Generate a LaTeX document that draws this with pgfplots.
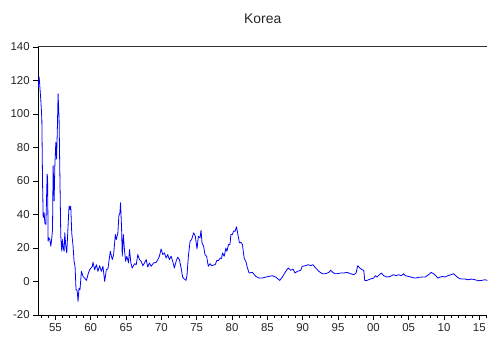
\documentclass[border=0pt]{standalone}
\usepackage{pgfplots}
\pgfplotsset{compat=1.18}
\usepackage{fontspec}
\setmainfont{Liberation Sans}

\begin{document}
\begin{tikzpicture}
% fixed canvas
\path (0,0) rectangle (489bp,342bp);
\begin{axis}[
  at={(38.3bp,26bp)}, anchor=south west,
  scale only axis, width=450.7bp, height=269bp,
  xmin=1952.56, xmax=2016.13, ymin=-20, ymax=140,
  axis x line=bottom, axis y line=left,
  axis line style={-, black, line width=0.6pt},
  tick align=outside,
  xtick={1955,1960,...,2015},
  xticklabels={55,60,65,70,75,80,85,90,95,00,05,10,15},
  minor xtick={1953,...,2016},
  ytick={-20,0,...,140},
  major tick length=5bp, minor tick length=3bp,
  tick style={black, line width=0.6pt},
  /pgf/number format/assume math mode=true,
  ticklabel style={font=\fontsize{11.5}{13}\selectfont, text=black!85},
  title={Korea},
  title style={at={(0.5,1)}, anchor=base, yshift=17.7bp,
    font=\fontsize{14}{16}\selectfont, text=black!85},
  clip=false,
]
\draw[black!80, line width=1.1pt] (rel axis cs:0,1) -- (rel axis cs:1,1);
\addplot[blue, line width=0.8pt, line join=round] coordinates {
(1952.59,116) (1952.62,118) (1952.70,122) (1952.94,108) (1953.08,97)
(1953.18,59) (1953.27,38) (1953.41,41) (1953.50,35) (1953.65,34)
(1953.72,45) (1953.83,64) (1953.89,62) (1953.97,24) (1954.07,26)
(1954.21,25) (1954.35,21) (1954.49,26) (1954.59,31) (1954.68,69)
(1954.82,48) (1954.92,69) (1955.06,83) (1955.16,73) (1955.27,90)
(1955.38,112) (1955.52,97) (1955.62,67) (1955.76,27) (1955.90,18)
(1956.00,25) (1956.11,20) (1956.23,18) (1956.33,29) (1956.47,21)
(1956.61,17) (1956.79,33) (1956.93,45) (1957.07,43) (1957.17,45)
(1957.31,29) (1957.50,21) (1957.64,12) (1957.78,9) (1957.92,-5)
(1958.02,-5) (1958.12,-7) (1958.20,-12) (1958.34,-4) (1958.48,-5)
(1958.68,6) (1958.91,3) (1959.15,2) (1959.39,0.6) (1959.67,5)
(1959.85,7) (1960.23,9) (1960.32,11.4) (1960.56,7) (1960.80,10)
(1961.02,6) (1961.26,9.4) (1961.50,6) (1961.73,9) (1961.97,0)
(1962.21,7) (1962.43,7.4) (1962.77,18) (1963.05,13) (1963.24,16)
(1963.48,28) (1963.62,25) (1963.84,29) (1963.98,39) (1964.13,41)
(1964.22,47) (1964.37,31) (1964.46,15) (1964.61,28) (1964.75,20)
(1964.93,12) (1965.11,15) (1965.35,11) (1965.49,19) (1965.68,11)
(1965.87,8) (1966.20,10.6) (1966.44,10) (1966.66,16) (1966.90,13)
(1967.14,12) (1967.37,9.4) (1967.61,11) (1967.85,13) (1968.07,8.6)
(1968.31,11) (1968.55,9) (1968.88,11) (1969.26,11.4) (1969.49,13)
(1969.72,15) (1969.96,19.4) (1970.19,16) (1970.43,17) (1970.67,14)
(1970.90,16) (1971.14,13) (1971.38,15) (1971.60,12) (1971.84,8)
(1972.08,12) (1972.31,14.4) (1972.55,13) (1972.79,8) (1973.01,2.6)
(1973.25,1.4) (1973.49,0.6) (1973.63,4) (1973.82,15) (1974.06,24)
(1974.28,25) (1974.56,29) (1974.80,27) (1975.04,19.4) (1975.23,27)
(1975.47,26) (1975.61,30.5) (1975.75,23) (1975.97,21) (1976.17,16)
(1976.40,15) (1976.64,9) (1976.88,10.6) (1977.10,9.4) (1977.38,9.8)
(1977.62,10) (1977.86,12.6) (1978.09,12.4) (1978.33,14) (1978.51,13.6)
(1978.65,17) (1978.89,15) (1979.13,20) (1979.27,18) (1979.50,22)
(1979.70,22) (1979.84,28) (1980.06,28) (1980.20,30) (1980.44,30)
(1980.63,32.6) (1980.87,27) (1981.05,23) (1981.25,23.4) (1981.47,22)
(1981.71,14) (1981.95,12) (1982.18,8) (1982.42,5) (1982.88,5.4)
(1983.36,3) (1983.83,2) (1984.29,2) (1984.77,2.6) (1985.24,3)
(1985.70,3.4) (1986.18,2.6) (1986.75,0.6) (1987.12,2.6) (1987.60,6)
(1987.96,8) (1988.30,6.6) (1988.62,7.4) (1988.91,5) (1989.23,6)
(1989.71,6.6) (1989.94,9) (1990.42,9.4) (1990.78,10) (1991.12,9.4)
(1991.45,10) (1991.83,8) (1992.29,6) (1992.76,4.6) (1993.24,4.6)
(1993.70,5.4) (1993.94,6.6) (1994.27,5.4) (1994.55,4.6) (1994.87,4.6)
(1995.35,5) (1995.82,5) (1996.28,5.4) (1996.76,4.6) (1997.23,4)
(1997.55,5) (1997.79,9.4) (1998.08,8) (1998.40,7) (1998.64,6.6)
(1998.78,0.6) (1999.10,0.6) (1999.58,1.4) (2000.05,2) (2000.29,3.4)
(2000.52,2.6) (2000.85,4) (2001.14,5) (2001.46,3.4) (2001.93,2.6)
(2002.40,3) (2002.87,4) (2003.19,3.4) (2003.57,4) (2003.96,3.4)
(2004.28,4.6) (2004.52,3.4) (2004.99,3) (2005.45,2.4) (2005.93,2)
(2006.40,2.4) (2006.86,2.6) (2007.34,2.6) (2007.81,4) (2008.19,5.4)
(2008.51,4.6) (2008.84,3.4) (2009.12,2) (2009.46,2.6) (2009.78,3)
(2010.16,2.6) (2010.53,3.4) (2011.01,4) (2011.33,4.6) (2011.66,3.4)
(2012.04,2) (2012.50,1.4) (2012.98,1.4) (2013.45,1) (2013.91,1.4)
(2014.39,1) (2014.86,0.4) (2015.32,0.6) (2015.80,1) (2016.13,0.6)
};
\end{axis}
\end{tikzpicture}
\end{document}
